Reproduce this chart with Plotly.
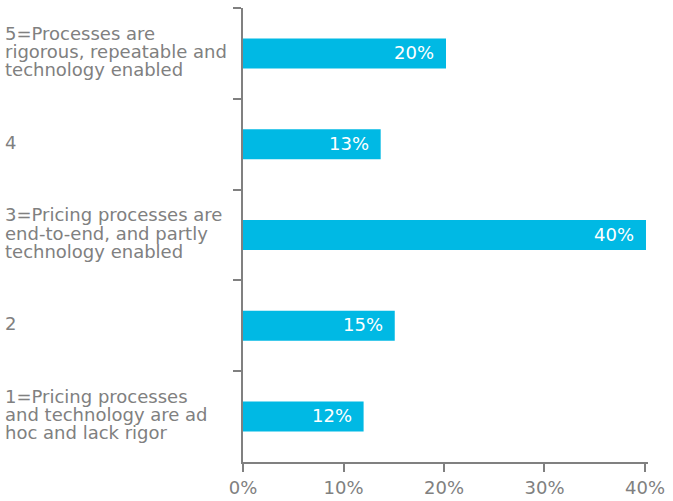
import plotly.graph_objects as go

categories = [
    "5=Processes are<br>rigorous, repeatable and<br>technology enabled",
    "4",
    "3=Pricing processes are<br>end-to-end, and partly<br>technology enabled",
    "2",
    "1=Pricing processes<br>and technology are ad<br>hoc and lack rigor",
]
values = [20.2, 13.7, 40.1, 15.1, 12.0]
labels = ["20%", "13%", "40%", "15%", "12%"]
x_ticks = [0, 10, 20, 30, 40]

BAR = "#00B9E4"
GREY = "#808080"
FONT = "DejaVu Sans"
FS = 18
LINE = 18.3

fig = go.Figure()
fig.add_trace(go.Bar(
    x=values, y=categories, orientation="h",
    marker=dict(color=BAR, line=dict(width=0)),
    width=0.33,
    hoverinfo="skip",
))

L, R, T, B = 243, 25, 8, 39
W, H = 673, 501
pw = W - L - R
annotations = []
for i, c in enumerate(categories):
    lines = c.split("<br>")
    n = len(lines)
    for j, ln in enumerate(lines):
        annotations.append(dict(
            x=-(L - 4) / pw, xref="paper", y=i, yref="y",
            yshift=((n - 1) / 2 - j) * LINE + 2,
            text=ln, showarrow=False, xanchor="left", yanchor="middle", align="left",
            borderpad=0,
            font=dict(size=FS, color=GREY, family=FONT),
        ))
for i, (v, t) in enumerate(zip(values, labels)):
    annotations.append(dict(
        x=v, xref="x", y=i, yref="y", xshift=-10, yshift=1,
        text=t, showarrow=False, xanchor="right", yanchor="middle",
        font=dict(size=FS, color="white", family=FONT),
    ))

fig.update_layout(
    width=W, height=H,
    margin=dict(l=L, r=R, t=T, b=B, autoexpand=False),
    plot_bgcolor="white", paper_bgcolor="white",
    showlegend=False,
    annotations=annotations,
    xaxis=dict(
        range=[0, 40.3], tickvals=x_ticks, ticktext=[f"{v}%" for v in x_ticks],
        showgrid=False, zeroline=False, showline=True, linecolor=GREY, linewidth=2,
        ticks="outside", ticklen=8, tickwidth=2, tickcolor=GREY,
        tickfont=dict(size=FS, color=GREY, family=FONT),
    ),
    yaxis=dict(
        type="category",
        categoryorder="array", categoryarray=categories, autorange="reversed",
        showticklabels=False, tickson="boundaries",
        showgrid=False, zeroline=False, showline=True, linecolor=GREY, linewidth=2,
        ticks="outside", ticklen=8, tickwidth=2, tickcolor=GREY,
    ),
)

fig.write_html("out.html", config={"displayModeBar": False},
               post_script="document.body.style.margin='0';")
